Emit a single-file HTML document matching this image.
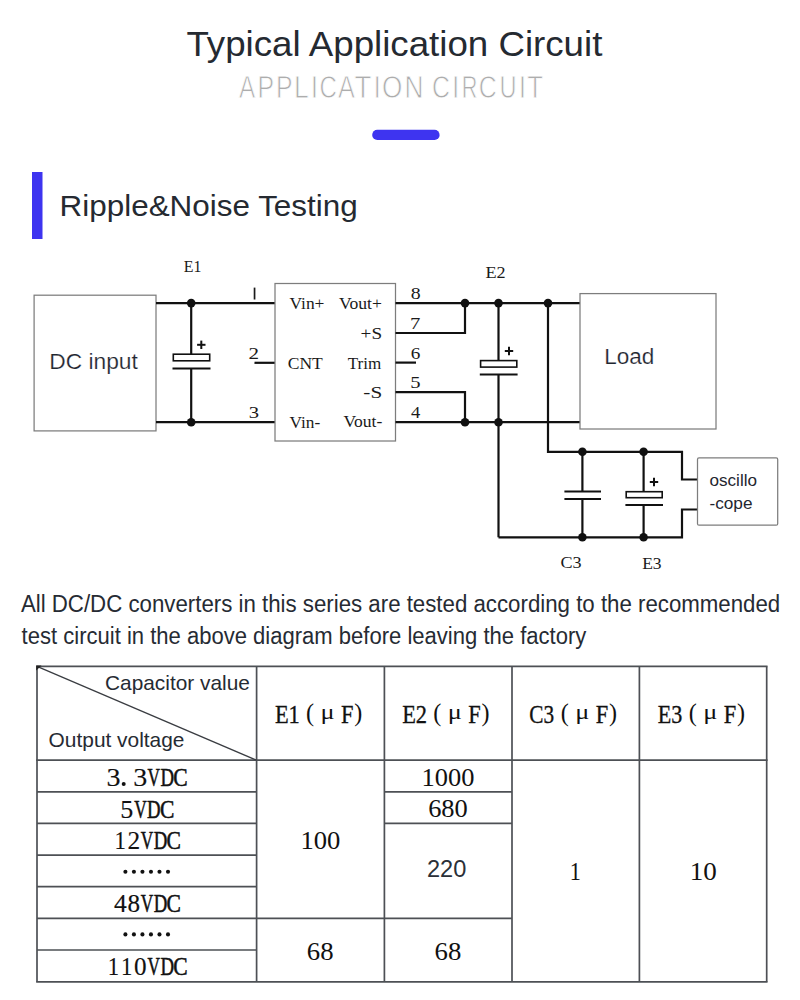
<!DOCTYPE html>
<html><head><meta charset="utf-8"><title>Typical Application Circuit</title>
<style>html,body{margin:0;padding:0;background:#fff;width:800px;height:1000px;overflow:hidden}
svg{display:block;font-family:"Liberation Sans",sans-serif}</style></head>
<body><svg width="800" height="1000" viewBox="0 0 800 1000">
<rect width="800" height="1000" fill="#fff"/>
<text x="186.43" y="56.10" font-family="'Liberation Sans', sans-serif" font-size="34.8" fill="#252a31" textLength="415.95" lengthAdjust="spacingAndGlyphs">Typical Application Circuit</text>
<text x="239.00" y="97.80" font-family="'Liberation Sans', sans-serif" font-size="30.5" fill="#adadad" textLength="16.28" lengthAdjust="spacingAndGlyphs" stroke="#fff" stroke-width="0.8">A</text>
<text x="257.46" y="97.80" font-family="'Liberation Sans', sans-serif" font-size="30.5" fill="#adadad" textLength="16.59" lengthAdjust="spacingAndGlyphs" stroke="#fff" stroke-width="0.8">P</text>
<text x="276.06" y="97.80" font-family="'Liberation Sans', sans-serif" font-size="30.5" fill="#adadad" textLength="16.59" lengthAdjust="spacingAndGlyphs" stroke="#fff" stroke-width="0.8">P</text>
<text x="293.93" y="97.80" font-family="'Liberation Sans', sans-serif" font-size="30.5" fill="#adadad" textLength="14.73" lengthAdjust="spacingAndGlyphs" stroke="#fff" stroke-width="0.8">L</text>
<text x="311.12" y="97.80" font-family="'Liberation Sans', sans-serif" font-size="30.5" fill="#adadad" textLength="6.86" lengthAdjust="spacingAndGlyphs" stroke="#fff" stroke-width="0.8">I</text>
<text x="319.47" y="97.80" font-family="'Liberation Sans', sans-serif" font-size="30.5" fill="#adadad" textLength="17.36" lengthAdjust="spacingAndGlyphs" stroke="#fff" stroke-width="0.8">C</text>
<text x="338.00" y="97.80" font-family="'Liberation Sans', sans-serif" font-size="30.5" fill="#adadad" textLength="16.88" lengthAdjust="spacingAndGlyphs" stroke="#fff" stroke-width="0.8">A</text>
<text x="354.57" y="97.80" font-family="'Liberation Sans', sans-serif" font-size="30.5" fill="#adadad" textLength="16.91" lengthAdjust="spacingAndGlyphs" stroke="#fff" stroke-width="0.8">T</text>
<text x="373.72" y="97.80" font-family="'Liberation Sans', sans-serif" font-size="30.5" fill="#adadad" textLength="6.86" lengthAdjust="spacingAndGlyphs" stroke="#fff" stroke-width="0.8">I</text>
<text x="381.97" y="97.80" font-family="'Liberation Sans', sans-serif" font-size="30.5" fill="#adadad" textLength="20.37" lengthAdjust="spacingAndGlyphs" stroke="#fff" stroke-width="0.8">O</text>
<text x="404.54" y="97.80" font-family="'Liberation Sans', sans-serif" font-size="30.5" fill="#adadad" textLength="19.00" lengthAdjust="spacingAndGlyphs" stroke="#fff" stroke-width="0.8">N</text>
<text x="431.94" y="97.80" font-family="'Liberation Sans', sans-serif" font-size="30.5" fill="#adadad" textLength="17.92" lengthAdjust="spacingAndGlyphs" stroke="#fff" stroke-width="0.8">C</text>
<text x="452.17" y="97.80" font-family="'Liberation Sans', sans-serif" font-size="30.5" fill="#adadad" textLength="6.86" lengthAdjust="spacingAndGlyphs" stroke="#fff" stroke-width="0.8">I</text>
<text x="461.81" y="97.80" font-family="'Liberation Sans', sans-serif" font-size="30.5" fill="#adadad" textLength="15.64" lengthAdjust="spacingAndGlyphs" stroke="#fff" stroke-width="0.8">R</text>
<text x="478.74" y="97.80" font-family="'Liberation Sans', sans-serif" font-size="30.5" fill="#adadad" textLength="17.92" lengthAdjust="spacingAndGlyphs" stroke="#fff" stroke-width="0.8">C</text>
<text x="499.53" y="97.80" font-family="'Liberation Sans', sans-serif" font-size="30.5" fill="#adadad" textLength="17.03" lengthAdjust="spacingAndGlyphs" stroke="#fff" stroke-width="0.8">U</text>
<text x="519.07" y="97.80" font-family="'Liberation Sans', sans-serif" font-size="30.5" fill="#adadad" textLength="6.86" lengthAdjust="spacingAndGlyphs" stroke="#fff" stroke-width="0.8">I</text>
<text x="527.30" y="97.80" font-family="'Liberation Sans', sans-serif" font-size="30.5" fill="#adadad" textLength="15.74" lengthAdjust="spacingAndGlyphs" stroke="#fff" stroke-width="0.8">T</text>
<rect x="372.2" y="129.8" width="67.4" height="10.2" rx="5.1" fill="#3e34f0"/>
<rect x="32" y="172" width="10.5" height="67" fill="#3e34f0"/>
<text x="59.55" y="216.10" font-family="'Liberation Sans', sans-serif" font-size="29.5" fill="#252a31" textLength="298.21" lengthAdjust="spacingAndGlyphs">Ripple&amp;Noise Testing</text>
<rect x="34.1" y="295.2" width="121.9" height="135.7" fill="none" stroke="#7d7d7d" stroke-width="1.25"/>
<line x1="156" y1="303.1" x2="275" y2="303.1" stroke="#111" stroke-width="2.2"/>
<line x1="156" y1="422.2" x2="275" y2="422.2" stroke="#111" stroke-width="2.2"/>
<line x1="191.2" y1="303.1" x2="191.2" y2="354" stroke="#111" stroke-width="2.2"/>
<line x1="191.2" y1="368.5" x2="191.2" y2="422.2" stroke="#111" stroke-width="2.2"/>
<rect x="173.3" y="354.2" width="36.39999999999998" height="6.6" fill="#fff" stroke="#111" stroke-width="1.6"/>
<line x1="172.5" y1="368.6" x2="210.5" y2="368.6" stroke="#111" stroke-width="2"/>
<line x1="197.10000000000002" y1="344.8" x2="205.5" y2="344.8" stroke="#111" stroke-width="2"/>
<line x1="201.3" y1="340.6" x2="201.3" y2="349.0" stroke="#111" stroke-width="2"/>
<circle cx="191.2" cy="303.1" r="4.3" fill="#111"/>
<circle cx="191.2" cy="422.2" r="4.3" fill="#111"/>
<line x1="254.5" y1="362.8" x2="275" y2="362.8" stroke="#111" stroke-width="2.2"/>
<rect x="275" y="283.5" width="120.5" height="157.5" fill="none" stroke="#7d7d7d" stroke-width="1.25"/>
<line x1="395.5" y1="303.1" x2="580" y2="303.1" stroke="#111" stroke-width="2.2"/>
<line x1="395.5" y1="422.2" x2="580" y2="422.2" stroke="#111" stroke-width="2.2"/>
<polyline points="395.5,333 465,333 465,303.1" fill="none" stroke="#111" stroke-width="2.2" stroke-linejoin="miter"/>
<polyline points="395.5,392.2 465,392.2 465,422.2" fill="none" stroke="#111" stroke-width="2.2" stroke-linejoin="miter"/>
<line x1="395.5" y1="362.6" x2="416" y2="362.6" stroke="#111" stroke-width="2.2"/>
<circle cx="465" cy="303.1" r="4.3" fill="#111"/>
<circle cx="465" cy="422.2" r="4.3" fill="#111"/>
<circle cx="498.5" cy="303.1" r="4.3" fill="#111"/>
<circle cx="498.5" cy="422.2" r="4.3" fill="#111"/>
<circle cx="548" cy="303.1" r="4.3" fill="#111"/>
<line x1="498.5" y1="303.1" x2="498.5" y2="360.6" stroke="#111" stroke-width="2.2"/>
<line x1="498.5" y1="374.4" x2="498.5" y2="537.3" stroke="#111" stroke-width="2.2"/>
<rect x="480.6" y="360.6" width="36.19999999999993" height="6.5" fill="#fff" stroke="#111" stroke-width="1.6"/>
<line x1="479.8" y1="374.5" x2="517.5999999999999" y2="374.5" stroke="#111" stroke-width="2"/>
<line x1="504.8" y1="351" x2="513.2" y2="351" stroke="#111" stroke-width="2"/>
<line x1="509" y1="346.8" x2="509" y2="355.2" stroke="#111" stroke-width="2"/>
<polyline points="548,303.1 548,451.8 682,451.8 682,479.5 697.5,479.5" fill="none" stroke="#111" stroke-width="2.2" stroke-linejoin="miter"/>
<polyline points="498.5,537.3 682,537.3 682,509.5 697.5,509.5" fill="none" stroke="#111" stroke-width="2.2" stroke-linejoin="miter"/>
<circle cx="582.4" cy="451.8" r="4.3" fill="#111"/>
<circle cx="643.6" cy="451.8" r="4.3" fill="#111"/>
<circle cx="582.4" cy="537.3" r="4.3" fill="#111"/>
<circle cx="643.6" cy="537.3" r="4.3" fill="#111"/>
<line x1="582.4" y1="451.8" x2="582.4" y2="491.6" stroke="#111" stroke-width="2.2"/>
<line x1="582.4" y1="499.1" x2="582.4" y2="537.3" stroke="#111" stroke-width="2.2"/>
<line x1="564.4" y1="491.6" x2="601" y2="491.6" stroke="#111" stroke-width="2"/>
<line x1="564.4" y1="499.1" x2="601" y2="499.1" stroke="#111" stroke-width="2"/>
<line x1="643.6" y1="451.8" x2="643.6" y2="491.6" stroke="#111" stroke-width="2.2"/>
<line x1="643.6" y1="505" x2="643.6" y2="537.3" stroke="#111" stroke-width="2.2"/>
<rect x="626.2" y="491.7" width="36.0" height="6" fill="#fff" stroke="#111" stroke-width="1.6"/>
<line x1="625.4000000000001" y1="505.1" x2="663.0" y2="505.1" stroke="#111" stroke-width="2"/>
<line x1="649.8" y1="482" x2="658.2" y2="482" stroke="#111" stroke-width="2"/>
<line x1="654" y1="477.8" x2="654" y2="486.2" stroke="#111" stroke-width="2"/>
<rect x="580" y="293.6" width="136" height="135.39999999999998" fill="none" stroke="#7d7d7d" stroke-width="1.25"/>
<rect x="697.5" y="457.9" width="80.2" height="67.3" rx="1.5" fill="none" stroke="#7d7d7d" stroke-width="1.25"/>
<text x="49.22" y="369.20" font-family="'Liberation Sans', sans-serif" font-size="21.6" fill="#1f2630" textLength="88.60" lengthAdjust="spacingAndGlyphs" stroke="#fff" stroke-width="0.2">DC input</text>
<text x="604.24" y="364.40" font-family="'Liberation Sans', sans-serif" font-size="21.6" fill="#1f2630" textLength="50.13" lengthAdjust="spacingAndGlyphs" stroke="#fff" stroke-width="0.2">Load</text>
<text x="709.47" y="486.00" font-family="'Liberation Sans', sans-serif" font-size="17.2" fill="#1f2630" textLength="47.53" lengthAdjust="spacingAndGlyphs">oscillo</text>
<text x="709.46" y="509.20" font-family="'Liberation Sans', sans-serif" font-size="17.2" fill="#1f2630">-cope</text>
<text x="183.85" y="272.10" font-family="'Liberation Serif', serif" font-size="17.5" fill="#1a1a1a" textLength="17.64" lengthAdjust="spacingAndGlyphs">E1</text>
<text x="485.42" y="277.80" font-family="'Liberation Serif', serif" font-size="17.5" fill="#1a1a1a" textLength="20.19" lengthAdjust="spacingAndGlyphs">E2</text>
<text x="560.43" y="568.00" font-family="'Liberation Serif', serif" font-size="17.5" fill="#1a1a1a" textLength="21.13" lengthAdjust="spacingAndGlyphs">C3</text>
<text x="642.13" y="569.00" font-family="'Liberation Serif', serif" font-size="17.5" fill="#1a1a1a">E3</text>
<text x="289.50" y="309.40" font-family="'Liberation Serif', serif" font-size="17.3" fill="#1a1a1a" textLength="34.94" lengthAdjust="spacingAndGlyphs">Vin+</text>
<text x="287.75" y="369.20" font-family="'Liberation Serif', serif" font-size="17.3" fill="#1a1a1a" textLength="35.07" lengthAdjust="spacingAndGlyphs">CNT</text>
<text x="289.50" y="427.50" font-family="'Liberation Serif', serif" font-size="17.3" fill="#1a1a1a">Vin-</text>
<text x="339.00" y="309.20" font-family="'Liberation Serif', serif" font-size="17.3" fill="#1a1a1a" textLength="42.85" lengthAdjust="spacingAndGlyphs">Vout+</text>
<text x="360.60" y="339.00" font-family="'Liberation Serif', serif" font-size="17.3" fill="#1a1a1a" textLength="21.48" lengthAdjust="spacingAndGlyphs">+S</text>
<text x="347.73" y="369.00" font-family="'Liberation Serif', serif" font-size="17.3" fill="#1a1a1a" textLength="33.47" lengthAdjust="spacingAndGlyphs">Trim</text>
<text x="363.34" y="398.40" font-family="'Liberation Serif', serif" font-size="17.3" fill="#1a1a1a" textLength="18.85" lengthAdjust="spacingAndGlyphs">-S</text>
<text x="343.60" y="427.30" font-family="'Liberation Serif', serif" font-size="17.3" fill="#1a1a1a" textLength="38.63" lengthAdjust="spacingAndGlyphs">Vout-</text>
<rect x="253.7" y="287.6" width="1.7" height="11.9" fill="#1a1a1a"/>
<text x="248.64" y="359.00" font-family="'Liberation Serif', serif" font-size="17.5" fill="#1a1a1a" textLength="10.55" lengthAdjust="spacingAndGlyphs">2</text>
<text x="248.83" y="418.00" font-family="'Liberation Serif', serif" font-size="17.5" fill="#1a1a1a" textLength="10.31" lengthAdjust="spacingAndGlyphs">3</text>
<text x="410.68" y="299.20" font-family="'Liberation Serif', serif" font-size="17.5" fill="#1a1a1a" textLength="9.94" lengthAdjust="spacingAndGlyphs">8</text>
<text x="410.01" y="329.00" font-family="'Liberation Serif', serif" font-size="17.5" fill="#1a1a1a" textLength="10.31" lengthAdjust="spacingAndGlyphs">7</text>
<text x="410.70" y="358.60" font-family="'Liberation Serif', serif" font-size="17.5" fill="#1a1a1a" textLength="9.60" lengthAdjust="spacingAndGlyphs">6</text>
<text x="410.33" y="388.40" font-family="'Liberation Serif', serif" font-size="17.5" fill="#1a1a1a" textLength="10.31" lengthAdjust="spacingAndGlyphs">5</text>
<text x="411.01" y="417.60" font-family="'Liberation Serif', serif" font-size="17.5" fill="#1a1a1a" textLength="9.28" lengthAdjust="spacingAndGlyphs">4</text>
<text x="20.90" y="611.80" font-family="'Liberation Sans', sans-serif" font-size="23.5" fill="#262b33" textLength="759.35" lengthAdjust="spacingAndGlyphs">All DC/DC converters in this series are tested according to the recommended</text>
<text x="21.60" y="643.60" font-family="'Liberation Sans', sans-serif" font-size="23.5" fill="#262b33" textLength="564.70" lengthAdjust="spacingAndGlyphs">test circuit in the above diagram before leaving the factory</text>
<line x1="36.15" y1="666.4" x2="767.5500000000001" y2="666.4" stroke="#4d5055" stroke-width="1.7"/>
<line x1="36.15" y1="760.2" x2="767.5500000000001" y2="760.2" stroke="#4d5055" stroke-width="1.7"/>
<line x1="36.15" y1="981.8" x2="767.5500000000001" y2="981.8" stroke="#4d5055" stroke-width="1.7"/>
<line x1="37" y1="666.4" x2="37" y2="981.8" stroke="#4d5055" stroke-width="1.7"/>
<line x1="256.6" y1="666.4" x2="256.6" y2="981.8" stroke="#4d5055" stroke-width="1.7"/>
<line x1="384.4" y1="666.4" x2="384.4" y2="981.8" stroke="#4d5055" stroke-width="1.7"/>
<line x1="512" y1="666.4" x2="512" y2="981.8" stroke="#4d5055" stroke-width="1.7"/>
<line x1="639.4" y1="666.4" x2="639.4" y2="981.8" stroke="#4d5055" stroke-width="1.7"/>
<line x1="766.7" y1="666.4" x2="766.7" y2="981.8" stroke="#4d5055" stroke-width="1.7"/>
<line x1="37" y1="791.8" x2="256.6" y2="791.8" stroke="#4d5055" stroke-width="1.7"/>
<line x1="37" y1="823.4" x2="256.6" y2="823.4" stroke="#4d5055" stroke-width="1.7"/>
<line x1="37" y1="855.1" x2="256.6" y2="855.1" stroke="#4d5055" stroke-width="1.7"/>
<line x1="37" y1="886.7" x2="256.6" y2="886.7" stroke="#4d5055" stroke-width="1.7"/>
<line x1="37" y1="918.3" x2="256.6" y2="918.3" stroke="#4d5055" stroke-width="1.7"/>
<line x1="37" y1="950" x2="256.6" y2="950" stroke="#4d5055" stroke-width="1.7"/>
<line x1="256.6" y1="918.3" x2="384.4" y2="918.3" stroke="#4d5055" stroke-width="1.7"/>
<line x1="384.4" y1="791.8" x2="512" y2="791.8" stroke="#4d5055" stroke-width="1.7"/>
<line x1="384.4" y1="823.4" x2="512" y2="823.4" stroke="#4d5055" stroke-width="1.7"/>
<line x1="384.4" y1="918.3" x2="512" y2="918.3" stroke="#4d5055" stroke-width="1.7"/>
<line x1="37" y1="666.4" x2="256.6" y2="760.2" stroke="#3a3d42" stroke-width="1.3"/>
<path d="M36.2,665.6 L41.5,665.6 L36.2,670.5 Z" fill="#222"/>
<text x="105.02" y="690.40" font-family="'Liberation Sans', sans-serif" font-size="20.3" fill="#262b33" textLength="144.82" lengthAdjust="spacingAndGlyphs">Capacitor value</text>
<text x="48.62" y="747.40" font-family="'Liberation Sans', sans-serif" font-size="20.6" fill="#262b33" textLength="135.83" lengthAdjust="spacingAndGlyphs">Output voltage</text>
<text x="274.90" y="723.20" font-family="'Liberation Serif', serif" font-size="26.2" fill="#111" textLength="24.90" lengthAdjust="spacingAndGlyphs" stroke="#111" stroke-width="0.35">E1</text>
<text x="306.04" y="720.98" font-family="'Liberation Serif', serif" font-size="25" fill="#111" textLength="8.05" lengthAdjust="spacingAndGlyphs">(</text>
<text x="320.64" y="719.38" font-family="'Liberation Serif', serif" font-size="20" fill="#111" textLength="14.11" lengthAdjust="spacingAndGlyphs">μ</text>
<text x="340.90" y="723.00" font-family="'Liberation Serif', serif" font-size="26.2" fill="#111" textLength="12.46" lengthAdjust="spacingAndGlyphs" stroke="#111" stroke-width="0.35">F</text>
<text x="354.35" y="720.98" font-family="'Liberation Serif', serif" font-size="25" fill="#111" textLength="8.02" lengthAdjust="spacingAndGlyphs">)</text>
<text x="402.15" y="723.20" font-family="'Liberation Serif', serif" font-size="26.2" fill="#111" textLength="24.90" lengthAdjust="spacingAndGlyphs" stroke="#111" stroke-width="0.35">E2</text>
<text x="433.29" y="720.98" font-family="'Liberation Serif', serif" font-size="25" fill="#111" textLength="8.05" lengthAdjust="spacingAndGlyphs">(</text>
<text x="447.89" y="719.38" font-family="'Liberation Serif', serif" font-size="20" fill="#111" textLength="14.11" lengthAdjust="spacingAndGlyphs">μ</text>
<text x="468.15" y="723.00" font-family="'Liberation Serif', serif" font-size="26.2" fill="#111" textLength="12.46" lengthAdjust="spacingAndGlyphs" stroke="#111" stroke-width="0.35">F</text>
<text x="481.60" y="720.98" font-family="'Liberation Serif', serif" font-size="25" fill="#111" textLength="8.02" lengthAdjust="spacingAndGlyphs">)</text>
<text x="529.34" y="723.20" font-family="'Liberation Serif', serif" font-size="26.2" fill="#111" textLength="24.83" lengthAdjust="spacingAndGlyphs" stroke="#111" stroke-width="0.35">C3</text>
<text x="560.79" y="720.98" font-family="'Liberation Serif', serif" font-size="25" fill="#111" textLength="8.05" lengthAdjust="spacingAndGlyphs">(</text>
<text x="575.39" y="719.38" font-family="'Liberation Serif', serif" font-size="20" fill="#111" textLength="14.11" lengthAdjust="spacingAndGlyphs">μ</text>
<text x="595.65" y="723.00" font-family="'Liberation Serif', serif" font-size="26.2" fill="#111" textLength="12.46" lengthAdjust="spacingAndGlyphs" stroke="#111" stroke-width="0.35">F</text>
<text x="609.10" y="720.98" font-family="'Liberation Serif', serif" font-size="25" fill="#111" textLength="8.02" lengthAdjust="spacingAndGlyphs">)</text>
<text x="657.65" y="723.20" font-family="'Liberation Serif', serif" font-size="26.2" fill="#111" textLength="24.54" lengthAdjust="spacingAndGlyphs" stroke="#111" stroke-width="0.35">E3</text>
<text x="688.79" y="720.98" font-family="'Liberation Serif', serif" font-size="25" fill="#111" textLength="8.05" lengthAdjust="spacingAndGlyphs">(</text>
<text x="703.39" y="719.38" font-family="'Liberation Serif', serif" font-size="20" fill="#111" textLength="14.11" lengthAdjust="spacingAndGlyphs">μ</text>
<text x="723.65" y="723.00" font-family="'Liberation Serif', serif" font-size="26.2" fill="#111" textLength="12.46" lengthAdjust="spacingAndGlyphs" stroke="#111" stroke-width="0.35">F</text>
<text x="737.10" y="720.98" font-family="'Liberation Serif', serif" font-size="25" fill="#111" textLength="8.02" lengthAdjust="spacingAndGlyphs">)</text>
<text x="106.59" y="785.80" font-family="'Liberation Serif', serif" font-size="25.5" fill="#111" textLength="13.99" lengthAdjust="spacingAndGlyphs" stroke="#111" stroke-width="0.15">3</text>
<circle cx="123.70" cy="784.00" r="2" fill="#111"/>
<text x="133.19" y="785.80" font-family="'Liberation Serif', serif" font-size="25.5" fill="#111" textLength="13.99" lengthAdjust="spacingAndGlyphs" stroke="#111" stroke-width="0.15">3</text>
<text x="147.50" y="785.80" font-family="'Liberation Serif', serif" font-size="25.5" fill="#111" textLength="12.46" lengthAdjust="spacingAndGlyphs" stroke="#111" stroke-width="0.55">V</text>
<text x="160.41" y="785.80" font-family="'Liberation Serif', serif" font-size="25.5" fill="#111" textLength="13.54" lengthAdjust="spacingAndGlyphs" stroke="#111" stroke-width="0.55">D</text>
<text x="173.23" y="785.80" font-family="'Liberation Serif', serif" font-size="25.5" fill="#111" textLength="14.38" lengthAdjust="spacingAndGlyphs" stroke="#111" stroke-width="0.55">C</text>
<text x="120.38" y="817.60" font-family="'Liberation Serif', serif" font-size="25.5" fill="#111" textLength="13.04" lengthAdjust="spacingAndGlyphs" stroke="#111" stroke-width="0.15">5</text>
<text x="134.20" y="817.60" font-family="'Liberation Serif', serif" font-size="25.5" fill="#111" textLength="12.46" lengthAdjust="spacingAndGlyphs" stroke="#111" stroke-width="0.55">V</text>
<text x="147.11" y="817.60" font-family="'Liberation Serif', serif" font-size="25.5" fill="#111" textLength="13.54" lengthAdjust="spacingAndGlyphs" stroke="#111" stroke-width="0.55">D</text>
<text x="159.93" y="817.60" font-family="'Liberation Serif', serif" font-size="25.5" fill="#111" textLength="14.38" lengthAdjust="spacingAndGlyphs" stroke="#111" stroke-width="0.55">C</text>
<text x="114.43" y="848.60" font-family="'Liberation Serif', serif" font-size="25.5" fill="#111" textLength="11.33" lengthAdjust="spacingAndGlyphs" stroke="#111" stroke-width="0.15">1</text>
<text x="127.61" y="848.60" font-family="'Liberation Serif', serif" font-size="25.5" fill="#111" textLength="12.68" lengthAdjust="spacingAndGlyphs" stroke="#111" stroke-width="0.15">2</text>
<text x="140.85" y="848.60" font-family="'Liberation Serif', serif" font-size="25.5" fill="#111" textLength="12.46" lengthAdjust="spacingAndGlyphs" stroke="#111" stroke-width="0.55">V</text>
<text x="153.76" y="848.60" font-family="'Liberation Serif', serif" font-size="25.5" fill="#111" textLength="13.54" lengthAdjust="spacingAndGlyphs" stroke="#111" stroke-width="0.55">D</text>
<text x="166.58" y="848.60" font-family="'Liberation Serif', serif" font-size="25.5" fill="#111" textLength="14.38" lengthAdjust="spacingAndGlyphs" stroke="#111" stroke-width="0.55">C</text>
<text x="114.05" y="912.30" font-family="'Liberation Serif', serif" font-size="25.5" fill="#111" stroke="#111" stroke-width="0.15">4</text>
<text x="127.46" y="912.30" font-family="'Liberation Serif', serif" font-size="25.5" fill="#111" textLength="12.57" lengthAdjust="spacingAndGlyphs" stroke="#111" stroke-width="0.15">8</text>
<text x="140.85" y="912.30" font-family="'Liberation Serif', serif" font-size="25.5" fill="#111" textLength="12.46" lengthAdjust="spacingAndGlyphs" stroke="#111" stroke-width="0.55">V</text>
<text x="153.76" y="912.30" font-family="'Liberation Serif', serif" font-size="25.5" fill="#111" textLength="13.54" lengthAdjust="spacingAndGlyphs" stroke="#111" stroke-width="0.55">D</text>
<text x="166.58" y="912.30" font-family="'Liberation Serif', serif" font-size="25.5" fill="#111" textLength="14.38" lengthAdjust="spacingAndGlyphs" stroke="#111" stroke-width="0.55">C</text>
<text x="107.78" y="975.30" font-family="'Liberation Serif', serif" font-size="25.5" fill="#111" textLength="11.33" lengthAdjust="spacingAndGlyphs" stroke="#111" stroke-width="0.15">1</text>
<text x="121.08" y="975.30" font-family="'Liberation Serif', serif" font-size="25.5" fill="#111" textLength="11.33" lengthAdjust="spacingAndGlyphs" stroke="#111" stroke-width="0.15">1</text>
<text x="134.11" y="975.30" font-family="'Liberation Serif', serif" font-size="25.5" fill="#111" textLength="12.57" lengthAdjust="spacingAndGlyphs" stroke="#111" stroke-width="0.15">0</text>
<text x="147.50" y="975.30" font-family="'Liberation Serif', serif" font-size="25.5" fill="#111" textLength="12.46" lengthAdjust="spacingAndGlyphs" stroke="#111" stroke-width="0.55">V</text>
<text x="160.41" y="975.30" font-family="'Liberation Serif', serif" font-size="25.5" fill="#111" textLength="13.54" lengthAdjust="spacingAndGlyphs" stroke="#111" stroke-width="0.55">D</text>
<text x="173.23" y="975.30" font-family="'Liberation Serif', serif" font-size="25.5" fill="#111" textLength="14.38" lengthAdjust="spacingAndGlyphs" stroke="#111" stroke-width="0.55">C</text>
<circle cx="125.40" cy="871.8" r="2.05" fill="#111"/>
<circle cx="133.92" cy="871.8" r="2.05" fill="#111"/>
<circle cx="142.44" cy="871.8" r="2.05" fill="#111"/>
<circle cx="150.96" cy="871.8" r="2.05" fill="#111"/>
<circle cx="159.48" cy="871.8" r="2.05" fill="#111"/>
<circle cx="168.00" cy="871.8" r="2.05" fill="#111"/>
<circle cx="125.40" cy="934.4" r="2.05" fill="#111"/>
<circle cx="133.92" cy="934.4" r="2.05" fill="#111"/>
<circle cx="142.44" cy="934.4" r="2.05" fill="#111"/>
<circle cx="150.96" cy="934.4" r="2.05" fill="#111"/>
<circle cx="159.48" cy="934.4" r="2.05" fill="#111"/>
<circle cx="168.00" cy="934.4" r="2.05" fill="#111"/>
<text x="421.53" y="786.00" font-family="'Liberation Serif', serif" font-size="25.2" fill="#111" textLength="52.89" lengthAdjust="spacingAndGlyphs">1000</text>
<text x="428.17" y="817.20" font-family="'Liberation Serif', serif" font-size="25.2" fill="#111" textLength="39.65" lengthAdjust="spacingAndGlyphs">680</text>
<text x="300.42" y="848.80" font-family="'Liberation Serif', serif" font-size="25.2" fill="#111" textLength="39.91" lengthAdjust="spacingAndGlyphs">100</text>
<text x="306.86" y="960.20" font-family="'Liberation Serif', serif" font-size="25.2" fill="#111" textLength="26.77" lengthAdjust="spacingAndGlyphs">68</text>
<text x="434.56" y="960.40" font-family="'Liberation Serif', serif" font-size="25.2" fill="#111" textLength="26.77" lengthAdjust="spacingAndGlyphs">68</text>
<text x="426.89" y="876.90" font-family="'Liberation Sans', sans-serif" font-size="24.5" fill="#2a3038" textLength="39.39" lengthAdjust="spacingAndGlyphs">220</text>
<text x="569.67" y="880.40" font-family="'Liberation Serif', serif" font-size="25.2" fill="#111" textLength="11.07" lengthAdjust="spacingAndGlyphs">1</text>
<text x="689.79" y="880.40" font-family="'Liberation Serif', serif" font-size="25.2" fill="#111" textLength="27.06" lengthAdjust="spacingAndGlyphs">10</text>
</svg></body></html>
